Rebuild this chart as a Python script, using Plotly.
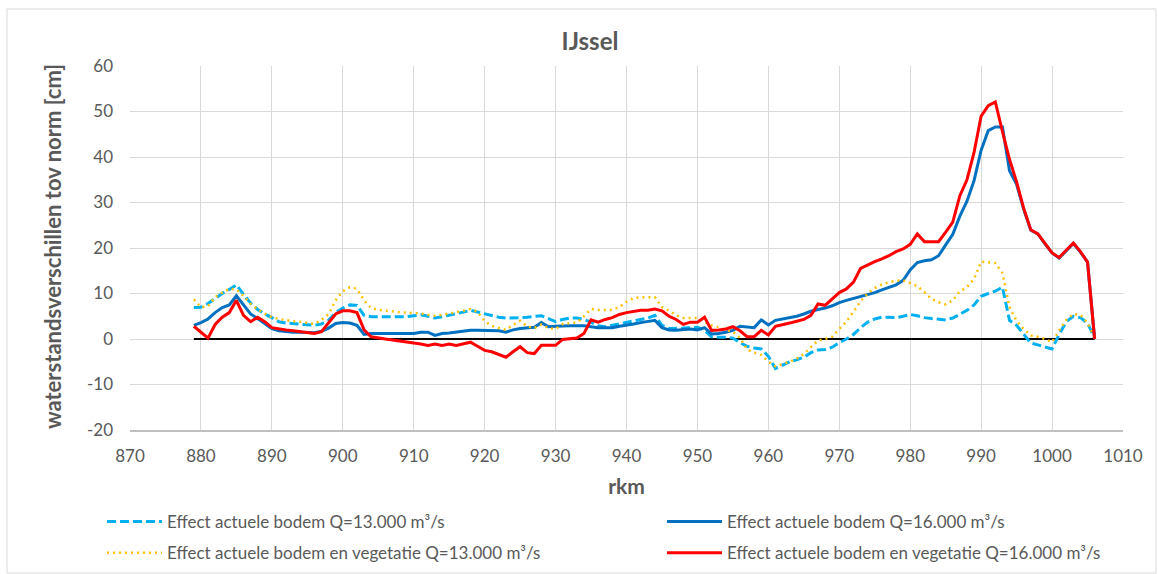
import plotly.graph_objects as go

rkm = list(range(879, 1007))

effect_bodem_13000 = [
    6.9, 7.0, 7.8, 9.0, 10.0, 10.9, 11.9, 9.8, 7.9, 6.5,
    5.5, 4.7, 3.8, 3.5, 3.4, 3.3, 3.1, 3.0, 3.3, 4.1,
    5.8, 6.8, 7.5, 7.4, 5.2, 4.9, 4.9, 4.9, 4.9, 4.9,
    4.9, 5.1, 5.3, 5.0, 4.6, 4.9, 5.2, 5.5, 5.9, 6.3,
    5.9, 5.5, 5.1, 4.8, 4.6, 4.6, 4.7, 4.8, 4.9, 5.1,
    4.5, 3.8, 4.3, 4.6, 4.6, 4.3, 3.7, 2.9, 2.7, 3.0,
    3.3, 3.6, 4.0, 4.3, 4.6, 5.2, 3.0, 2.3, 2.3, 2.4,
    2.5, 2.6, 1.9, 0.5, 0.4, 0.4, 0.2, -0.8, -1.6, -2.0,
    -2.2, -3.8, -6.5, -5.8, -5.0, -4.6, -4.0, -3.0, -2.4, -2.3,
    -1.8, -0.8, 0.0, 1.0, 2.5, 3.7, 4.4, 4.8, 4.8, 4.7,
    5.0, 5.4, 5.1, 4.7, 4.5, 4.3, 4.2, 4.6, 5.5, 6.3,
    7.5, 9.4, 10.0, 10.5, 11.4, 4.1, 3.0, 1.0, -0.9, -1.3,
    -1.8, -2.2, 1.0, 3.8, 5.0, 4.7, 3.5, 0.2,
]

effect_bodem_16000 = [
    3.0, 3.6, 4.4, 5.8, 6.9, 7.5, 9.5, 7.5, 5.5, 4.5,
    3.3, 2.3, 1.8, 1.6, 1.5, 1.5, 1.4, 1.4, 1.7, 2.4,
    3.4, 3.6, 3.5, 3.0, 1.0, 1.2, 1.2, 1.2, 1.2, 1.2,
    1.2, 1.2, 1.5, 1.5, 0.8, 1.2, 1.3, 1.5, 1.7, 1.9,
    1.9, 1.9, 1.9, 1.8, 1.5, 2.0, 2.3, 2.4, 2.6, 3.6,
    2.7, 2.8, 2.9, 2.9, 2.9, 2.9, 2.7, 2.5, 2.5, 2.5,
    2.8, 3.0, 3.3, 3.6, 3.9, 4.1, 2.5, 2.0, 1.9, 2.0,
    2.2, 2.0, 2.5, 1.1, 1.2, 1.5, 1.9, 2.8, 2.6, 2.5,
    4.2, 3.1, 4.1, 4.4, 4.6, 5.0, 5.5, 6.1, 6.5, 6.8,
    7.3, 8.0, 8.5, 8.9, 9.3, 9.8, 10.2, 10.8, 11.3, 11.9,
    12.9, 15.2, 16.8, 17.2, 17.4, 18.3, 20.7, 23.0, 27.0, 30.3,
    34.8, 41.5, 45.8, 46.6, 46.6, 37.0, 34.0, 28.5, 23.9, 23.1,
    20.9, 18.9, 17.8, 19.3, 21.0, 19.1, 16.9, 0.0,
]

effect_bodem_veg_13000 = [
    8.7, 7.0, 7.2, 9.2, 10.2, 11.0, 10.9, 9.5, 7.7, 6.5,
    5.6, 4.8, 4.4, 4.1, 3.9, 3.8, 3.5, 3.3, 4.2, 5.5,
    8.5, 10.5, 11.4, 11.0, 8.5, 6.8, 6.4, 6.2, 6.0, 5.9,
    5.8, 5.7, 5.6, 5.3, 5.1, 5.3, 5.6, 5.8, 6.2, 6.6,
    6.0, 3.9, 2.9, 2.4, 2.0, 3.1, 4.0, 2.8, 2.4, 3.2,
    2.4, 2.2, 3.3, 3.5, 3.6, 5.0, 6.6, 6.4, 6.4, 6.4,
    7.0, 8.2, 9.0, 9.2, 9.2, 9.2, 7.0, 6.2, 5.2, 4.6,
    4.6, 4.6, 3.8, 3.0, 2.6, 2.0, 1.6, 0.3, -2.3, -3.0,
    -3.5, -5.0, -6.0, -5.5, -5.0, -4.3, -3.3, -1.8, -0.3, 0.0,
    0.5, 2.2, 3.8, 6.0, 8.3, 10.0, 11.2, 12.0, 12.5, 12.8,
    12.9, 12.3, 11.6, 10.3, 8.8, 8.1, 7.6, 8.5, 10.5, 11.4,
    13.2, 17.0, 16.8, 16.7, 14.5, 7.0, 4.0, 2.2, 0.8, 0.5,
    0.0, -0.7, 1.9, 4.2, 5.5, 5.3, 3.5, 0.4,
]

effect_bodem_veg_16000 = [
    2.8, 1.5, 0.2, 3.2, 4.8, 5.8, 8.5, 5.2, 3.8, 4.8,
    3.8, 2.5, 2.2, 2.0, 1.8, 1.6, 1.4, 1.2, 1.6, 3.5,
    5.5, 6.2, 6.2, 5.8, 2.0, 0.5, 0.2, 0.0, -0.2, -0.4,
    -0.6, -0.9, -1.1, -1.4, -1.1, -1.4, -1.1, -1.4, -1.0, -0.7,
    -1.6, -2.5, -2.8, -3.4, -4.0, -2.8, -1.7, -3.0, -3.2, -1.4,
    -1.4, -1.4, -0.1, 0.0, 0.2, 1.2, 4.2, 3.7, 4.3, 4.7,
    5.4, 5.8, 6.1, 6.3, 6.3, 6.6, 6.2, 5.0, 4.3, 3.2,
    3.7, 3.7, 4.8, 1.9, 2.0, 2.2, 2.7, 1.8, 0.5, 0.5,
    1.9, 0.9, 2.8, 3.1, 3.5, 3.9, 4.3, 5.2, 7.7, 7.4,
    8.8, 10.2, 11.0, 12.5, 15.5, 16.3, 17.0, 17.6, 18.3, 19.2,
    19.8, 20.8, 23.1, 21.4, 21.4, 21.4, 23.5, 25.7, 31.5, 35.0,
    41.0, 49.0, 51.3, 52.1, 45.6, 39.5, 34.5, 28.7, 24.0, 23.1,
    21.0, 18.9, 17.9, 19.6, 21.1, 19.2, 16.9, 0.0,
]

norm_line = [0.0 for _ in rkm]

x_ticks = list(range(870, 1011, 10))
y_ticks = list(range(-20, 61, 10))
y_tick_labels = [str(v) for v in y_ticks]

FONT = "Lato"
GREY = "#595959"

# plot-area geometry in page pixels
L, R, T, B = 130, 1123, 66, 430
PW, PH = R - L, B - T

fig = go.Figure()

fig.add_trace(go.Scatter(
    x=rkm, y=norm_line, mode="lines", showlegend=False, hoverinfo="skip",
    line=dict(color="#000000", width=2),
))
fig.add_trace(go.Scatter(
    x=rkm, y=effect_bodem_13000, mode="lines",
    name="Effect actuele bodem Q=13.000 m³/s",
    line=dict(color="#00B0F0", width=3, dash="9px,4px"),
    legend="legend", legendgroup="a",
))
fig.add_trace(go.Scatter(
    x=rkm, y=effect_bodem_16000, mode="lines",
    name="Effect actuele bodem Q=16.000 m³/s",
    line=dict(color="#0070C0", width=3),
    legend="legend2", legendgroup="b",
))
fig.add_trace(go.Scatter(
    x=rkm, y=effect_bodem_veg_13000, mode="lines",
    name="Effect actuele bodem en vegetatie Q=13.000 m³/s",
    line=dict(color="#FFC000", width=2.5, dash="2px,4px"),
    legend="legend", legendgroup="c",
))
fig.add_trace(go.Scatter(
    x=rkm, y=effect_bodem_veg_16000, mode="lines",
    name="Effect actuele bodem en vegetatie Q=16.000 m³/s",
    line=dict(color="#FF0000", width=3),
    legend="legend2", legendgroup="d",
))

legend_common = dict(
    orientation="v", xref="container", yref="container",
    xanchor="left", yanchor="top", itemwidth=55,
    font=dict(family=FONT, size=17, color=GREY),
    bgcolor="rgba(0,0,0,0)", tracegroupgap=6,
)

fig.update_layout(
    width=1158, height=574,
    paper_bgcolor="#FFFFFF", plot_bgcolor="#FFFFFF",
    margin=dict(l=L, r=1158 - R, t=T, b=574 - B, autoexpand=False),
    font=dict(family=FONT, color=GREY),
    title=dict(text="<b>IJssel</b>", x=590 / 1158, xref="container", xanchor="center",
               y=1 - 42 / 574, yref="container", yanchor="middle",
               font=dict(family=FONT, size=24, color=GREY)),
    legend=dict(x=102 / 1158, y=1 - 504 / 574, **legend_common),
    legend2=dict(x=662 / 1158, y=1 - 504 / 574, **legend_common),
    xaxis=dict(
        range=[870, 1010], tickmode="array", tickvals=x_ticks,
        showgrid=True, gridcolor="#D9D9D9", gridwidth=1,
        showline=True, linecolor="#BFBFBF", linewidth=1.5,
        zeroline=False, ticks="", ticklabelstandoff=10, tickangle=0,
        automargin=False,
        tickfont=dict(family=FONT, size=17, color=GREY),
        title=dict(text="<b>rkm</b>", standoff=14,
                   font=dict(family=FONT, size=21, color=GREY)),
    ),
    yaxis=dict(
        range=[-20, 60], tickmode="array", tickvals=y_ticks, ticktext=y_tick_labels,
        showgrid=True, gridcolor="#D9D9D9", gridwidth=1,
        showline=False, zeroline=False, ticks="", ticklabelstandoff=16,
        automargin=False,
        tickfont=dict(family=FONT, size=17, color=GREY),
    ),
    annotations=[dict(
        text="<b>waterstandsverschillen tov norm [cm]</b>", textangle=-90,
        xref="paper", yref="paper", x=(52 - L) / PW, y=(B - 247) / PH,
        xanchor="center", yanchor="middle", showarrow=False,
        font=dict(family=FONT, size=22, color=GREY),
    )],
    shapes=[dict(type="rect", xref="paper", yref="paper",
                 x0=(7 - L) / PW, x1=(1156 - L) / PW,
                 y0=-(573 - B) / PH, y1=1 + (T - 9) / PH,
                 line=dict(color="#D9D9D9", width=1), fillcolor="rgba(0,0,0,0)",
                 layer="below")],
)

fig.write_html("out.html", config={"displayModeBar": False},
               post_script="document.body.style.margin='0';")
